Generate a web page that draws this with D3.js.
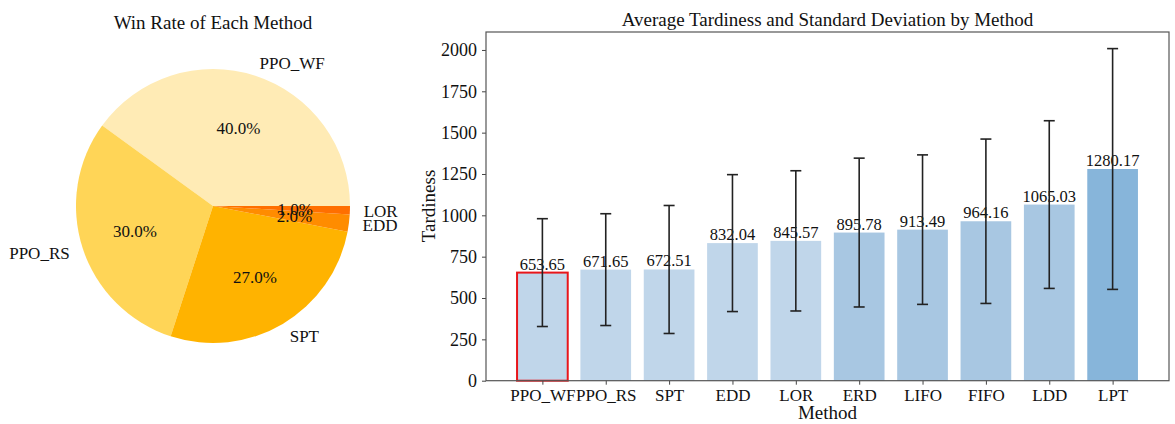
<!DOCTYPE html>
<html>
<head>
<meta charset="utf-8">
<script src="https://d3js.org/d3.v7.min.js"></script>
<style>
  body { margin: 0; background: #fff; }
  svg text { font-family: "Liberation Serif", "Times New Roman", serif; }
</style>
</head>
<body>
<svg id="chart" width="1175" height="424"></svg>
<script>
// pie data
const pieNames = ["PPO_WF", "PPO_RS", "SPT", "EDD", "LOR"];
const winRate = [40, 30, 27, 2, 1];
const pieColors = ["#ffebb5", "#ffd557", "#ffb300", "#ff8c00", "#ff6f00"];

// bar data
const methods = ["PPO_WF", "PPO_RS", "SPT", "EDD", "LOR", "ERD", "LIFO", "FIFO", "LDD", "LPT"];
const tardiness = [653.65, 671.65, 672.51, 832.04, 845.57, 895.78, 913.49, 964.16, 1065.03, 1280.17];
const stdDev = [326, 338, 387, 414, 424, 450, 452, 497, 507, 728];
const barColors = ["#c0d6ea", "#c0d6ea", "#c0d6ea", "#c0d6ea", "#c0d6ea",
                   "#a8c7e2", "#a8c7e2", "#a8c7e2", "#a8c7e2", "#87b5da"];
const yTicks = [0, 250, 500, 750, 1000, 1250, 1500, 1750, 2000];

const svg = d3.select("#chart");

// ---- pie ----
const cx = 213, cy = 206, r = 137;
const pieG = svg.append("g").attr("transform", `translate(${cx},${cy})`);

// matplotlib style: start at 3 o'clock, go counter-clockwise
const pie = d3.pie().sort(null).startAngle(Math.PI / 2).endAngle(Math.PI / 2 - 2 * Math.PI);
const arcs = pie(winRate);
const arc = d3.arc().innerRadius(0).outerRadius(r);

pieG.selectAll("path.slice")
  .data(arcs)
  .enter()
  .append("path")
  .attr("class", "slice")
  .attr("d", arc)
  .attr("fill", (d, i) => pieColors[i]);

arcs.forEach((d, i) => {
  const mid = (d.startAngle + d.endAngle) / 2; // d3 angle, clockwise from 12
  const sx = Math.sin(mid), sy = -Math.cos(mid);
  pieG.append("text")
    .attr("x", 1.1 * r * sx)
    .attr("y", 1.1 * r * sy)
    .attr("dy", "0.35em")
    .attr("text-anchor", sx > 0 ? "start" : "end")
    .attr("font-size", 17)
    .attr("fill", "#111")
    .text(pieNames[i]);
  pieG.append("text")
    .attr("x", 0.6 * r * sx)
    .attr("y", 0.6 * r * sy)
    .attr("dy", "0.35em")
    .attr("text-anchor", "middle")
    .attr("font-size", 17)
    .attr("fill", "#111")
    .text(winRate[i].toFixed(1) + "%");
});

svg.append("text")
  .attr("x", cx).attr("y", 29)
  .attr("text-anchor", "middle")
  .attr("font-size", 19)
  .attr("fill", "#111")
  .text("Win Rate of Each Method");

// ---- bar chart ----
const plotL = 486, plotR = 1169, plotT = 32, plotB = 380.7;
const n = methods.length;
const pad = 0.05 * (n - 1 + 0.8);
const x = d3.scaleLinear().domain([-0.4 - pad, n - 1 + 0.4 + pad]).range([plotL, plotR]);
const yMax = d3.max(tardiness.map((v, i) => v + stdDev[i])) * 1.05;
const y = d3.scaleLinear().domain([0, yMax]).range([plotB, plotT]);
const bw = x(0.8) - x(0);

const barG = svg.append("g");
barG.selectAll("rect.bar")
  .data(tardiness)
  .enter()
  .append("rect")
  .attr("class", "bar")
  .attr("x", (d, i) => x(i) - bw / 2)
  .attr("y", d => y(d))
  .attr("width", bw)
  .attr("height", d => y(0) - y(d))
  .attr("fill", (d, i) => barColors[i])
  .attr("stroke", (d, i) => i === 0 ? "#e8161b" : "none")
  .attr("stroke-width", 2);

// value labels
barG.selectAll("text.val")
  .data(tardiness)
  .enter()
  .append("text")
  .attr("class", "val")
  .attr("x", (d, i) => x(i))
  .attr("y", d => y(d) - 3)
  .attr("text-anchor", "middle")
  .attr("font-size", 16.5)
  .attr("fill", "#111")
  .text(d => d.toFixed(2));

// error bars
const errG = svg.append("g").attr("stroke", "#222").attr("stroke-width", 1.6);
tardiness.forEach((v, i) => {
  const lo = y(v - stdDev[i]), hi = y(v + stdDev[i]);
  errG.append("line").attr("x1", x(i)).attr("x2", x(i)).attr("y1", lo).attr("y2", hi);
  errG.append("line").attr("x1", x(i) - 5.5).attr("x2", x(i) + 5.5).attr("y1", lo).attr("y2", lo);
  errG.append("line").attr("x1", x(i) - 5.5).attr("x2", x(i) + 5.5).attr("y1", hi).attr("y2", hi);
});

// axes
const xAxis = d3.axisBottom(x)
  .tickValues(d3.range(n))
  .tickFormat(i => methods[i])
  .tickSizeOuter(0)
  .tickSize(4)
  .tickPadding(4);
const yAxis = d3.axisLeft(y)
  .tickValues(yTicks)
  .tickFormat(d3.format("d"))
  .tickSizeOuter(0)
  .tickSize(4)
  .tickPadding(5);

const gx = svg.append("g").attr("transform", `translate(0,${plotB})`).call(xAxis);
const gy = svg.append("g").attr("transform", `translate(${plotL},0)`).call(yAxis);
gx.selectAll("text").style("font-size", "17px");
gy.selectAll("text").style("font-size", "18px");
[gx, gy].forEach(g => {
  g.select(".domain").remove();
  g.selectAll("line").attr("stroke", "#444");
  g.selectAll("text")
    .style("font-family", "'Liberation Serif', serif")
    .attr("fill", "#111");
});

// frame
svg.append("rect")
  .attr("x", plotL).attr("y", plotT)
  .attr("width", plotR - plotL).attr("height", plotB - plotT)
  .attr("fill", "none")
  .attr("stroke", "#555")
  .attr("stroke-width", 1.2);

svg.append("text")
  .attr("x", (plotL + plotR) / 2).attr("y", 26)
  .attr("text-anchor", "middle")
  .attr("font-size", 19)
  .attr("fill", "#111")
  .text("Average Tardiness and Standard Deviation by Method");

svg.append("text")
  .attr("x", (plotL + plotR) / 2).attr("y", 419)
  .attr("text-anchor", "middle")
  .attr("font-size", 19)
  .attr("fill", "#111")
  .text("Method");

svg.append("text")
  .attr("transform", `translate(435,206) rotate(-90)`)
  .attr("text-anchor", "middle")
  .attr("font-size", 19)
  .attr("fill", "#111")
  .text("Tardiness");
</script>
</body>
</html>
